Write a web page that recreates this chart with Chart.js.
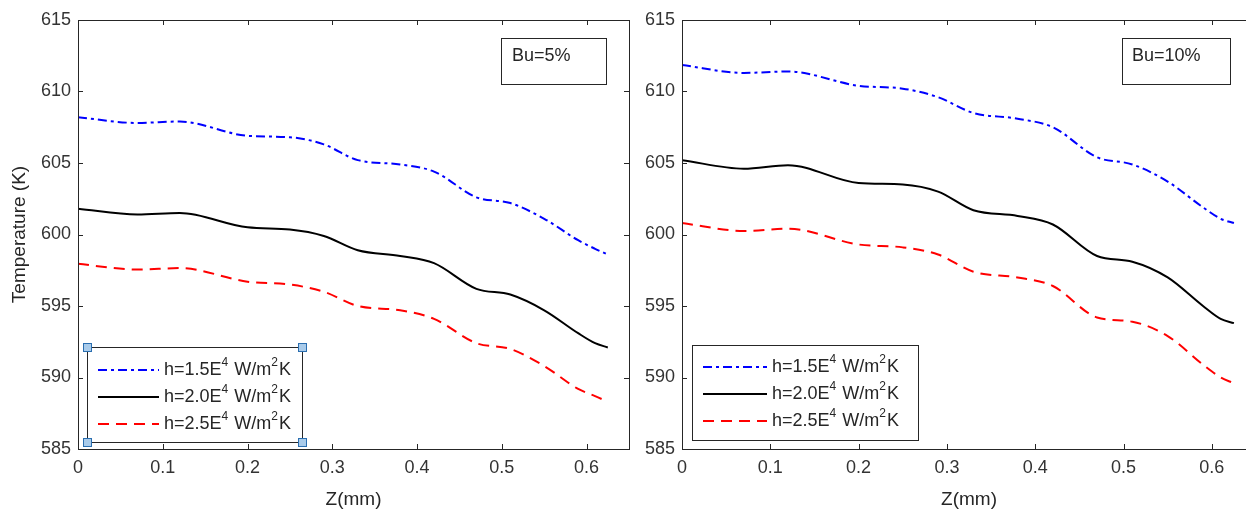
<!DOCTYPE html>
<html>
<head>
<meta charset="utf-8">
<script src="https://cdn.jsdelivr.net/npm/chart.js@4.4.1/dist/chart.umd.min.js"></script>
<style>
  html, body { margin: 0; padding: 0; overflow: hidden; background: #fff; width: 1246px; height: 514px; }
  canvas { position: absolute; top: 0; }
</style>
</head>
<body>
<canvas id="chartBu5" width="640" height="514" style="left:0"></canvas>
<canvas id="chartBu10" width="626" height="514" style="left:640px"></canvas>
<script>
// Axial position Z (mm), shared by every curve
const zValues = [0, 0.07, 0.12, 0.2, 0.25, 0.29, 0.33, 0.38, 0.42, 0.47, 0.51, 0.55, 0.59, 0.61, 0.625];

// Bu = 5 %
const bu5_h15 = [608.2, 607.8, 607.9, 606.9, 606.8, 606.3, 605.2, 604.9, 604.4, 602.6, 602.2, 601.1, 599.6, 599.0, 598.6];
const bu5_h20 = [601.8, 601.4, 601.5, 600.5, 600.35, 599.9, 598.9, 598.5, 598.0, 596.2, 595.8, 594.7, 593.1, 592.4, 592.1];
const bu5_h25 = [597.95, 597.55, 597.65, 596.7, 596.5, 596.0, 595.0, 594.7, 594.1, 592.4, 592.0, 590.8, 589.2, 588.7, 588.3];

// Bu = 10 %
const bu10_h15 = [611.85, 611.3, 611.4, 610.4, 610.2, 609.6, 608.5, 608.1, 607.5, 605.4, 604.9, 603.7, 601.9, 601.1, 600.8];
const bu10_h20 = [605.2, 604.6, 604.85, 603.6, 603.5, 603.0, 601.7, 601.3, 600.7, 598.5, 598.1, 597.0, 595.0, 594.1, 593.8];
const bu10_h25 = [600.8, 600.25, 600.4, 599.3, 599.1, 598.6, 597.4, 597.0, 596.4, 594.2, 593.9, 592.9, 590.9, 590.0, 589.6];

// legend text pieces: [normal, superscript, normal, superscript, normal]
const legendTexts = [
  ['h=1.5E', '4', ' W/m', '2', 'K'],
  ['h=2.0E', '4', ' W/m', '2', 'K'],
  ['h=2.5E', '4', ' W/m', '2', 'K']
];

const FONT = '"Liberation Sans", Arial, Helvetica, sans-serif';
const INK = '#262626';

const lineStyles = [
  { color: '#0000ff', dash: [9, 4, 3, 4] },
  { color: '#000000', dash: [] },
  { color: '#ff0000', dash: [11, 7] }
];

function toPoints(vals) {
  return vals.map((v, i) => ({ x: zValues[i], y: v }));
}

// draws the box, inward ticks, legend and the Bu note
const framePlugin = {
  id: 'frame',
  afterDraw(chart, args, opts) {
    const { ctx, chartArea: a } = chart;
    const xs = chart.scales.x, ys = chart.scales.y;
    ctx.save();
    ctx.strokeStyle = INK;
    ctx.lineWidth = 1;
    ctx.setLineDash([]);
    ctx.strokeRect(a.left + 0.5, a.top + 0.5, a.right - a.left, a.bottom - a.top);

    // inward ticks
    const tl = 5;
    ctx.beginPath();
    xs.ticks.forEach(t => {
      const px = Math.round(xs.getPixelForValue(t.value)) + 0.5;
      ctx.moveTo(px, a.bottom); ctx.lineTo(px, a.bottom - tl);
      ctx.moveTo(px, a.top); ctx.lineTo(px, a.top + tl);
    });
    ys.ticks.forEach(t => {
      const py = Math.round(ys.getPixelForValue(t.value)) + 0.5;
      ctx.moveTo(a.left, py); ctx.lineTo(a.left + tl, py);
      ctx.moveTo(a.right, py); ctx.lineTo(a.right - tl, py);
    });
    ctx.stroke();

    // note box
    const n = opts.note;
    ctx.fillStyle = '#fff';
    ctx.fillRect(n.x0, n.y0, n.x1 - n.x0, n.y1 - n.y0);
    ctx.strokeRect(n.x0 + 0.5, n.y0 + 0.5, n.x1 - n.x0, n.y1 - n.y0);
    ctx.fillStyle = INK;
    ctx.font = '18px ' + FONT;
    ctx.textBaseline = 'middle';
    ctx.fillText(n.text, n.tx, n.ty);

    // legend
    const L = opts.legend;
    ctx.fillStyle = '#fff';
    ctx.fillRect(L.x0, L.y0, L.x1 - L.x0, L.y1 - L.y0);
    ctx.strokeStyle = INK;
    ctx.strokeRect(L.x0 + 0.5, L.y0 + 0.5, L.x1 - L.x0, L.y1 - L.y0);
    chart.data.datasets.forEach((ds, i) => {
      const ry = L.rows[i];
      ctx.save();
      ctx.strokeStyle = ds.borderColor;
      ctx.lineWidth = 2;
      ctx.setLineDash(ds.borderDash);
      ctx.beginPath();
      ctx.moveTo(L.sx0, ry); ctx.lineTo(L.sx1, ry);
      ctx.stroke();
      ctx.restore();
      let tx = L.tx;
      ctx.fillStyle = INK;
      legendTexts[i].forEach((part, k) => {
        const sup = k % 2 === 1;
        ctx.font = (sup ? '12px ' : '18px ') + FONT;
        ctx.fillText(part, tx, sup ? ry - 7 : ry);
        tx += ctx.measureText(part).width + (sup ? 1 : 0);
      });
    });

    // selection handles on the left legend
    if (L.handles) {
      ctx.fillStyle = '#a9cbea';
      ctx.strokeStyle = '#2a6eb0';
      [[L.x0, L.y0], [L.x1, L.y0], [L.x0, L.y1], [L.x1, L.y1]].forEach(([hx, hy]) => {
        ctx.fillRect(hx - 4, hy - 4, 8, 8);
        ctx.strokeRect(hx - 3.5, hy - 3.5, 8, 8);
      });
    }
    ctx.restore();
  }
};

function makeChart(id, series, yWidth, padRight, showYTitle, note, legend) {
  const datasets = series.map((vals, i) => ({
    label: legendTexts[i].join(''),
    data: toPoints(vals),
    borderColor: lineStyles[i].color,
    borderDash: lineStyles[i].dash,
    borderWidth: 2,
    pointRadius: 0,
    fill: false,
    cubicInterpolationMode: 'monotone'
  }));

  return new Chart(document.getElementById(id).getContext('2d'), {
    type: 'line',
    data: { datasets: datasets },
    plugins: [framePlugin],
    options: {
      responsive: false,
      animation: false,
      layout: { padding: { left: 0, right: padRight, top: 20, bottom: 0 } },
      plugins: {
        legend: { display: false },
        tooltip: { enabled: false },
        frame: { note: note, legend: legend }
      },
      scales: {
        x: {
          type: 'linear',
          min: 0,
          max: 0.65,
          grid: { display: false, drawTicks: false },
          border: { display: false },
          ticks: {
            stepSize: 0.1,
            includeBounds: false,
            padding: 8,
            color: '#333',
            font: { family: FONT, size: 18 },
            maxRotation: 0,
            callback: v => Number(v.toFixed(2)).toString()
          },
          title: {
            display: true,
            text: 'Z(mm)',
            color: INK,
            font: { family: FONT, size: 19 },
            padding: { top: 3, bottom: 3 }
          },
          afterFit: s => { s.height = 65; }
        },
        y: {
          min: 585,
          max: 615,
          grid: { display: false, drawTicks: false },
          border: { display: false },
          ticks: {
            stepSize: 5,
            padding: 7,
            color: '#333',
            font: { family: FONT, size: 18 }
          },
          title: {
            display: showYTitle,
            text: 'Temperature (K)',
            color: INK,
            font: { family: FONT, size: 19 },
            padding: { top: 8, bottom: 8 }
          },
          afterFit: s => { s.width = yWidth; }
        }
      }
    }
  });
}

makeChart('chartBu5', [bu5_h15, bu5_h20, bu5_h25], 78, 11, true,
  { x0: 501, y0: 38, x1: 606, y1: 84, text: 'Bu=5%', tx: 512, ty: 56 },
  { x0: 87, y0: 347, x1: 302, y1: 442, rows: [370, 397, 424], sx0: 98, sx1: 159, tx: 164, handles: true });

makeChart('chartBu10', [bu10_h15, bu10_h20, bu10_h25], 42, 10, false,
  { x0: 482, y0: 38, x1: 590, y1: 84, text: 'Bu=10%', tx: 492, ty: 56 },
  { x0: 52, y0: 345, x1: 278, y1: 440, rows: [367, 394, 421], sx0: 63, sx1: 127, tx: 132, handles: false });
</script>
</body>
</html>
